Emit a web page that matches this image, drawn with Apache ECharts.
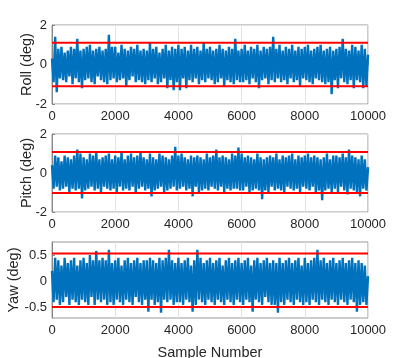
<!DOCTYPE html>
<html>
<head>
<meta charset="utf-8">
<script src="https://cdn.jsdelivr.net/npm/echarts@6/dist/echarts.min.js"></script>
<style>
  html, body { margin: 0; padding: 0; background: #fff; }
  #chart { width: 407px; height: 358px; }
</style>
</head>
<body>
<div id="chart"></div>
<script>
// samples are read every 50 steps from the plot (0 .. 10000)
var sampleStep = 50;

var rollDeg = [
  0.3,-0.9,1.4,-1.4,0.8,-0.7,0.9,-0.8,0.6,-0.9,0.7,-0.6,0.9,-1.0,0.8,-0.7,1.3,-0.9,0.7,-1.2,
  0.8,-0.8,0.9,-0.7,1.0,-0.9,0.7,-1.0,0.8,-0.6,0.9,-0.8,0.7,-0.9,0.8,-1.0,1.5,-0.8,0.9,-0.7,
  0.9,-0.9,0.6,-0.8,1.0,-0.7,0.8,-1.1,0.7,-0.8,0.9,-0.6,0.8,-0.9,1.0,-0.8,0.7,-0.9,0.8,-1.0,
  0.7,-0.8,1.1,-0.9,0.8,-0.7,0.9,-1.0,0.6,-0.9,0.8,-0.7,1.0,-1.2,0.7,-0.8,0.9,-1.3,0.8,-0.9,
  1.0,-1.3,0.8,-0.7,0.9,-1.2,0.7,-0.8,1.0,-0.9,0.8,-0.7,0.9,-1.0,0.7,-0.8,1.1,-0.9,0.8,-0.7,
  0.9,-0.8,0.7,-1.0,0.8,-0.9,1.0,-0.7,0.8,-1.1,0.7,-0.8,0.9,-0.9,0.8,-1.0,1.3,-0.8,0.7,-0.9,
  0.8,-0.9,1.0,-0.8,0.7,-1.0,0.9,-0.7,0.8,-0.9,1.0,-1.2,0.7,-0.8,0.9,-0.7,0.8,-1.0,0.9,-0.8,
  1.4,-0.9,0.8,-0.7,1.0,-0.9,0.7,-0.8,0.9,-1.0,0.8,-0.7,1.0,-0.9,0.7,-0.8,0.9,-1.1,0.8,-0.7,
  0.9,-0.8,1.0,-0.9,0.7,-1.0,0.8,-0.7,0.9,-0.8,1.0,-0.9,0.7,-1.0,0.8,-0.9,0.9,-1.5,0.7,-0.8,
  0.8,-1.2,0.9,-0.7,1.3,-0.9,0.8,-1.0,0.7,-0.8,1.0,-1.2,0.9,-0.8,0.7,-0.9,1.0,-1.2,0.8,-1.1,
  0.5
];

var pitchDeg = [
  0.4,-0.8,0.9,-0.7,0.8,-0.9,0.6,-0.8,0.9,-0.7,0.8,-1.0,0.7,-0.8,0.9,-0.9,1.2,-0.8,1.0,-1.3,
  0.8,-0.9,0.7,-0.8,1.0,-0.7,0.9,-0.9,1.1,-0.8,0.7,-1.0,0.8,-0.7,0.9,-0.8,1.0,-0.9,0.7,-0.8,
  0.9,-1.0,0.8,-0.7,1.1,-0.9,0.7,-0.8,0.9,-0.9,1.0,-0.7,0.8,-1.0,0.9,-0.8,1.1,-0.7,0.8,-0.9,
  0.7,-0.8,1.0,-1.2,0.8,-0.9,0.7,-0.8,1.0,-0.7,0.9,-1.0,0.8,-0.9,0.7,-0.8,0.9,-0.7,1.35,-0.9,
  0.9,-0.8,1.0,-0.7,0.8,-0.9,0.7,-0.8,0.9,-1.2,0.8,-0.7,0.9,-1.0,0.8,-0.9,0.7,-0.8,1.0,-0.9,
  0.8,-0.7,0.9,-0.8,1.2,-0.9,0.8,-0.7,0.9,-1.0,0.8,-0.8,0.7,-0.9,1.0,-0.8,0.9,-0.8,1.3,-0.9,
  1.0,-0.9,0.8,-0.7,0.9,-1.0,0.8,-0.9,0.7,-0.8,1.0,-0.9,0.8,-1.35,0.7,-0.9,0.8,-1.0,0.9,-0.7,
  0.8,-0.9,1.0,-0.8,0.7,-0.9,0.9,-1.0,0.8,-0.7,0.9,-0.8,1.0,-0.9,0.7,-0.8,0.9,-1.0,0.8,-0.7,
  0.9,-0.8,1.0,-0.9,0.8,-0.7,0.9,-1.0,0.8,-0.9,0.7,-1.4,0.8,-0.9,1.0,-0.8,0.7,-1.0,0.9,-0.8,
  0.9,-1.0,0.8,-0.7,1.0,-0.9,0.8,-1.1,1.2,-0.8,0.9,-0.9,0.8,-1.0,0.7,-1.2,0.9,-0.8,0.7,-0.9,
  0.3
];

var yawDeg = [
  0.2,-0.4,0.45,-0.35,0.4,-0.45,0.3,-0.4,0.45,-0.3,0.35,-0.45,0.4,-0.35,0.45,-0.4,0.3,-0.45,0.4,-0.35,
  0.45,-0.4,0.35,-0.45,0.5,-0.3,0.4,-0.45,0.58,-0.35,0.4,-0.4,0.45,-0.35,0.4,-0.45,0.6,-0.4,0.35,-0.45,
  0.4,-0.35,0.45,-0.4,0.3,-0.45,0.4,-0.35,0.45,-0.4,0.35,-0.45,0.4,-0.3,0.45,-0.4,0.35,-0.45,0.4,-0.35,
  0.4,-0.58,0.45,-0.35,0.4,-0.45,0.35,-0.4,0.45,-0.6,0.4,-0.35,0.45,-0.4,0.6,-0.35,0.4,-0.45,0.35,-0.4,
  0.45,-0.4,0.35,-0.45,0.4,-0.35,0.45,-0.4,0.3,-0.58,0.4,-0.45,0.6,-0.35,0.45,-0.4,0.35,-0.45,0.4,-0.35,
  0.45,-0.4,0.35,-0.45,0.4,-0.35,0.45,-0.4,0.3,-0.45,0.4,-0.35,0.45,-0.4,0.35,-0.45,0.4,-0.35,0.45,-0.4,
  0.35,-0.45,0.4,-0.35,0.45,-0.4,0.3,-0.58,0.4,-0.35,0.45,-0.4,0.35,-0.45,0.4,-0.3,0.45,-0.4,0.35,-0.45,
  0.4,-0.45,0.35,-0.6,0.45,-0.4,0.35,-0.45,0.4,-0.35,0.45,-0.4,0.35,-0.45,0.4,-0.35,0.45,-0.4,0.3,-0.45,
  0.45,-0.4,0.35,-0.45,0.4,-0.35,0.45,-0.4,0.6,-0.45,0.4,-0.35,0.45,-0.4,0.35,-0.45,0.4,-0.35,0.45,-0.4,
  0.35,-0.45,0.4,-0.35,0.45,-0.4,0.35,-0.45,0.4,-0.35,0.45,-0.4,0.35,-0.58,0.4,-0.45,0.35,-0.4,0.3,-0.45,
  0.1
];

// red limit lines (upper, lower)
var rollBounds = [1.1, -1.1];
var pitchBounds = [1.08, -1.02];
var yawBounds = [0.53, -0.49];

var panelNames = ['Roll (deg)', 'Pitch (deg)', 'Yaw (deg)'];
var yawTicks = [-0.5, 0, 0.5];

var font = '"Liberation Sans", Arial, sans-serif';
var textColor = '#262626';

function toPoints(values) {
  return values.map(function (v, i) { return [i * sampleStep, v]; });
}

function xAxisFor(idx, withName) {
  return {
    type: 'value', gridIndex: idx, min: 0, max: 10000, interval: 2000,
    name: withName ? 'Sample Number' : '',
    nameLocation: 'middle', nameGap: 27, nameMoveOverlap: false,
    nameTextStyle: { fontFamily: font, fontSize: 14.5, color: textColor },
    axisLine: { show: true, lineStyle: { color: '#888', width: 1 } },
    axisTick: { show: true, inside: true, length: 3, lineStyle: { color: '#888' } },
    axisLabel: {
      fontFamily: font, fontSize: 13, color: textColor, margin: 6,
      formatter: function (v) { return String(v); }
    },
    splitLine: { show: true, lineStyle: { color: '#e3e3e3', width: 1 } }
  };
}

function yAxisFor(idx, min, max, interval, gap, custom) {
  var ax = {
    type: 'value', gridIndex: idx, min: min, max: max,
    name: panelNames[idx], nameLocation: 'middle', nameGap: gap, nameRotate: 90,
    nameMoveOverlap: false,
    nameTextStyle: { fontFamily: font, fontSize: 14.5, color: textColor },
    axisLine: { show: true, lineStyle: { color: '#888', width: 1 } },
    axisTick: { show: true, inside: true, length: 3, lineStyle: { color: '#888' } },
    axisLabel: {
      fontFamily: font, fontSize: 13, color: textColor, margin: 5,
      formatter: function (v) { return String(v); }
    },
    splitLine: { show: true, lineStyle: { color: '#e3e3e3', width: 1 } }
  };
  if (custom) {
    ax.axisLabel.customValues = custom;
    ax.axisTick.customValues = custom;
    ax.splitLine.show = false;
  } else {
    ax.interval = interval;
  }
  return ax;
}

function dataSeries(idx, values) {
  return {
    type: 'line', xAxisIndex: idx, yAxisIndex: idx, data: toPoints(values),
    showSymbol: false, symbol: 'none', z: 2,
    lineStyle: { color: '#0072BD', width: 2.4 }
  };
}

function boundSeries(idx, value) {
  return {
    type: 'line', xAxisIndex: idx, yAxisIndex: idx,
    data: [[0, value], [10000, value]],
    showSymbol: false, symbol: 'none', z: 3,
    lineStyle: { color: '#FF0000', width: 2 }
  };
}

var gridBase = { left: 52, width: 316, show: true, borderColor: '#999', borderWidth: 1,
  backgroundColor: '#fff', outerBoundsMode: 'none', containLabel: false };

var chart = echarts.init(document.getElementById('chart'));
chart.setOption({
  animation: false,
  backgroundColor: '#fff',
  grid: [
    Object.assign({}, gridBase, { top: 25, height: 79 }),
    Object.assign({}, gridBase, { top: 134, height: 78 }),
    Object.assign({}, gridBase, { top: 242, height: 76 })
  ],
  xAxis: [xAxisFor(0, false), xAxisFor(1, false), xAxisFor(2, true)],
  yAxis: [
    yAxisFor(0, -2, 2, 2, 18),
    yAxisFor(1, -2, 2, 2, 18),
    yAxisFor(2, -0.7, 0.75, null, 31, yawTicks)
  ],
  series: [
    dataSeries(0, rollDeg),
    boundSeries(0, rollBounds[0]),
    boundSeries(0, rollBounds[1]),
    dataSeries(1, pitchDeg),
    boundSeries(1, pitchBounds[0]),
    boundSeries(1, pitchBounds[1]),
    dataSeries(2, yawDeg),
    boundSeries(2, yawBounds[0]),
    boundSeries(2, yawBounds[1])
  ]
});
</script>
</body>
</html>
